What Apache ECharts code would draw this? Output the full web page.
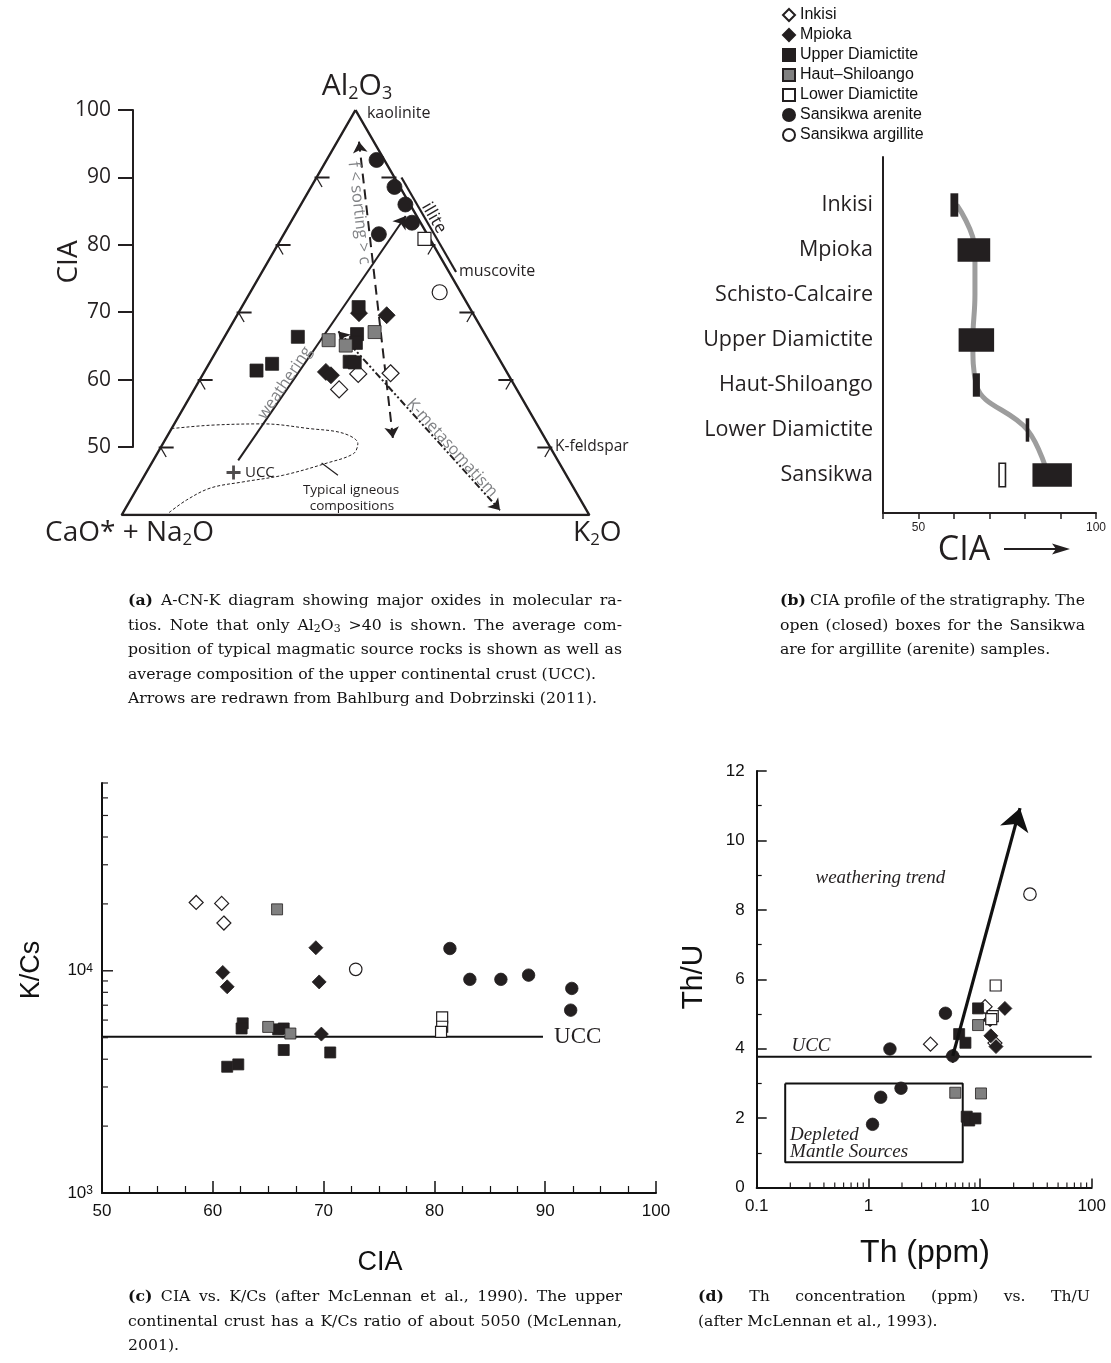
<!DOCTYPE html>
<html>
<head>
<meta charset="utf-8">
<title>Sediment geochemistry panels</title>
<script src="https://cdn.jsdelivr.net/npm/echarts@6/dist/echarts.min.js"></script>
<style>
html, body { margin: 0; padding: 0; background: #fff; }
#chart { width: 1111px; height: 1363px; }
</style>
</head>
<body>
<div id="chart"></div>
<script>
// ---------------- data ----------------
const groupNames = ['Inkisi', 'Mpioka', 'Upper Diamictite', 'Haut–Shiloango', 'Lower Diamictite', 'Sansikwa arenite', 'Sansikwa argillite'];

// (a) A-CN-K molar proportions: [Al2O3 %, K2O %]; CaO*+Na2O is the remainder
const acnkInkisi = [[60.9, 19.9], [61.0, 24.0], [58.6, 18.6]];
const acnkMpioka = [[69.9, 15.5], [69.6, 19.2], [61.2, 15.6], [60.7, 16.5]];
const acnkUpperDiamictite = [[70.8, 15.0], [66.4, 9.4], [66.8, 16.8], [65.5, 17.3], [62.7, 17.9], [62.6, 18.6], [62.4, 8.1], [61.4, 6.6]];
const acnkHautShiloango = [[65.9, 13.6], [65.1, 16.2], [67.1, 18.9]];
const acnkLowerDiamictite = [[80.9, 18.4]];
const acnkSansikwaArenite = [[92.6, 6.4], [88.6, 10.7], [86.0, 13.4], [83.3, 15.6], [81.6, 12.2]];
const acnkSansikwaArgillite = [[73.0, 24.3]];

// (a) reference compositions and trends, [Al2O3 %, K2O %]
const ternaryOutline = [[100, 0], [40, 0], [40, 60], [100, 0]];
const ternaryTickLevels = [50, 60, 70, 80, 90];
const illiteMuscoviteJoin = [[90, 10.9], [76, 24.9]];
const igneousField = [[52.8, 0], [53.3, 4.7], [53.5, 11.4], [52.8, 17.7], [52.1, 22.4], [50.6, 25.0], [49.1, 25.2],
                      [47.7, 22.5], [45.9, 17.8], [44.9, 13.1], [44.0, 9.4], [42.2, 7.2], [40.2, 5.8]];
const igneousLeader = [[47.7, 21.8], [45.9, 24.8]];
const uccACNK = [46.3, 11.2];
const weatheringTrend = [[48.1, 10.9], [84.3, 14.3]];
const sortingTrend = [[95.3, 2.8], [51.4, 29.1]];
const kMetasomatismTrend = [[67.2, 14.2], [40.7, 48.2]];

// (b) CIA ranges per stratigraphic unit
const profileUnits = ['Inkisi', 'Mpioka', 'Schisto-Calcaire', 'Upper Diamictite', 'Haut-Shiloango', 'Lower Diamictite', 'Sansikwa'];
const rangeUnits = ['Inkisi', 'Mpioka', 'Upper Diamictite', 'Haut-Shiloango', 'Lower Diamictite', 'Sansikwa', 'Sansikwa'];
const rangeMin = [59.0, 61.0, 61.3, 65.3, 80.2, 82.1, 72.7];
const rangeMax = [61.2, 70.2, 71.3, 67.3, 81.2, 93.2, 74.5];
const rangeOpen = [false, false, false, false, false, false, true];
const profileTrend = [60.8, 65.9, 65.9, 65.3, 66.3, 80.7, 86.5];

// (c) [CIA, K/Cs]
const kcsInkisi = [[58.5, 20300], [60.8, 20100], [61.0, 16400]];
const kcsMpioka = [[69.3, 12700], [60.9, 9830], [61.3, 8470], [69.6, 8910], [69.8, 5190]];
const kcsUpperDiamictite = [[62.7, 5800], [62.6, 5500], [66.4, 5500], [65.9, 5450], [66.4, 4400], [61.3, 3700], [62.3, 3790], [70.6, 4290]];
const kcsHautShiloango = [[65.8, 18900], [65.0, 5590], [67.0, 5220]];
const kcsLowerDiamictite = [[80.7, 6170], [80.7, 5600], [80.6, 5310]];
const kcsSansikwaArenite = [[81.4, 12600], [83.2, 9150], [86.0, 9150], [88.5, 9560], [92.4, 8330], [92.3, 6650]];
const kcsSansikwaArgillite = [[72.9, 10150]];
const uccKCs = 5050;
const uccKCsSpan = [50, 89.8];
const kcsMajorTicks = [10000];
const kcsMinorTicks = [2000, 3000, 4000, 5000, 6000, 7000, 8000, 9000, 20000, 30000, 40000, 50000, 60000, 70000];

// (d) [Th ppm, Th/U]
const thuInkisi = [[3.6, 4.13], [11.1, 5.21], [13.6, 4.16]];
const thuMpioka = [[16.7, 5.16], [12.5, 4.37], [13.9, 4.06], [12.3, 4.83], [5.7, 3.79]];
const thuUpperDiamictite = [[9.6, 5.16], [6.5, 4.42], [7.4, 4.17], [7.6, 2.04], [8.0, 1.93], [9.1, 1.99]];
const thuHautShiloango = [[9.6, 4.68], [6.0, 2.73], [10.2, 2.71]];
const thuLowerDiamictite = [[13.8, 5.82], [13.0, 4.94], [12.6, 4.85]];
const thuSansikwaArenite = [[4.9, 5.02], [1.56, 3.99], [5.7, 3.79], [1.96, 2.86], [1.29, 2.6], [1.09, 1.82]];
const thuSansikwaArgillite = [[28.0, 8.45]];
const uccThU = 3.77;
const depletedMantleTh = [0.18, 7.0];
const depletedMantleThU = [0.73, 3.0];
const weatheringTrendThU = [[5.7, 3.79], [22.8, 10.93]];
const thMinorTicks = [0.2, 0.3, 0.4, 0.5, 0.6, 0.7, 0.8, 0.9, 2, 3, 4, 5, 6, 7, 8, 9, 20, 30, 40, 50, 60, 70, 80, 90];

// ---------------- styling ----------------
const INK = '#231f20';
const GREY_TEXT = '#808285';
const SANS = '"Open Sans", "Noto Sans", sans-serif';
const HELV = '"Liberation Sans", Arial, sans-serif';
const SERIF = '"Liberation Serif", "Times New Roman", serif';
const CAP_FAMILY = '"DejaVu Serif", serif';
const CAP_SIZE = 15.7;

const markerStyles = {
  'Inkisi': { symbol: 'diamond', fill: '#fff' },
  'Mpioka': { symbol: 'diamond', fill: INK },
  'Upper Diamictite': { symbol: 'rect', fill: INK },
  'Haut–Shiloango': { symbol: 'rect', fill: '#808080' },
  'Lower Diamictite': { symbol: 'rect', fill: '#fff' },
  'Sansikwa arenite': { symbol: 'circle', fill: INK },
  'Sansikwa argillite': { symbol: 'circle', fill: '#fff' }
};

// ternary (Al2O3, K2O) -> cartesian (K2O + Al2O3/2, Al2O3) on an equilateral grid
const ter = ([a, k]) => [k + a / 2, a];

function groupSeries(name, data, xi, yi, sizes) {
  const st = markerStyles[name];
  return {
    name, type: 'scatter', xAxisIndex: xi, yAxisIndex: yi, silent: true, z: 5,
    symbol: st.symbol, symbolSize: sizes[st.symbol],
    itemStyle: { color: st.fill, borderColor: INK, borderWidth: st.fill === '#fff' ? 1.2 : 0.8, opacity: 1 },
    data
  };
}

function noteSeries(xi, yi, notes, toXY) {
  return {
    type: 'custom', xAxisIndex: xi, yAxisIndex: yi, silent: true, z: 6,
    data: notes.map(n => toXY(n.at)),
    renderItem(params, api) {
      const n = notes[params.dataIndex];
      const p = api.coord([api.value(0), api.value(1)]);
      return {
        type: 'text', x: p[0], y: p[1], rotation: (n.rot || 0) * Math.PI / 180,
        style: {
          text: n.text, fill: n.color || INK, fontSize: n.size, fontFamily: n.family || SANS,
          fontStyle: n.italic ? 'italic' : 'normal', align: n.align || 'center', verticalAlign: 'middle'
        }
      };
    }
  };
}

function tickSeries(xi, yi, points, dir, width) {
  return {
    type: 'custom', xAxisIndex: xi, yAxisIndex: yi, silent: true, z: 4,
    data: points,
    renderItem(params, api) {
      const p = api.coord([api.value(0), api.value(1)]);
      const len = api.value(2);
      const q = dir === 'right' ? [p[0] + len, p[1]] : [p[0], p[1] - len];
      return { type: 'line', shape: { x1: p[0], y1: p[1], x2: q[0], y2: q[1] }, style: { stroke: INK, lineWidth: width } };
    }
  };
}

const ternaryNotes = [
  { at: [99.56, 1.69], text: 'kaolinite', size: 16, align: 'left' },
  { at: [76.15, 25.2], text: 'muscovite', size: 16, align: 'left' },
  { at: [50.07, 50.56], text: 'K-feldspar', size: 15.5, align: 'left' },
  { at: [84.0, 18.07], text: 'illite', size: 17, rot: -60 },
  { at: [46.22, 12.71], text: 'UCC', size: 15, align: 'left' },
  { at: [43.7, 27.57], text: 'Typical igneous', size: 13.5 },
  { at: [41.33, 28.88], text: 'compositions', size: 13.5 },
  { at: [59.56, 11.17], text: 'weathering', size: 16, rot: 56, color: GREY_TEXT },
  { at: [84.74, 8.08], text: 'f < sorting > c', size: 16.5, rot: -83.5, color: GREY_TEXT },
  { at: [49.93, 37.42], text: 'K-metasomatism', size: 16, rot: -47.7, color: GREY_TEXT }
];

const thuNotes = [
  { at: [1.28, 8.92], text: 'weathering trend', size: 19, family: SERIF, italic: true },
  { at: [0.306, 4.08], text: 'UCC', size: 19, family: SERIF, italic: true },
  { at: [0.199, 1.5], text: 'Depleted', size: 19, family: SERIF, italic: true, align: 'left' },
  { at: [0.199, 1.02], text: 'Mantle Sources', size: 19, family: SERIF, italic: true, align: 'left' }
];

const kcsNotes = [
  { at: [90.8, 5050], text: 'UCC', size: 23, family: SERIF, align: 'left' }
];

// ---------------- series ----------------
const series = [];
const A = { x: 0, y: 0 }, B = { x: 3, y: 3 }, C = { x: 4, y: 4 }, D = { x: 5, y: 5 };

// (a) ternary frame
series.push({
  type: 'line', xAxisIndex: A.x, yAxisIndex: A.y, silent: true, z: 3, symbol: 'none',
  lineStyle: { color: INK, width: 2.5 }, data: ternaryOutline.map(ter)
});
series.push({
  type: 'custom', xAxisIndex: A.x, yAxisIndex: A.y, silent: true, z: 3,
  data: ternaryTickLevels.flatMap(a => [[...ter([a, 0]), 0], [...ter([a, 100 - a]), 1]]),
  renderItem(params, api) {
    const p = api.coord([api.value(0), api.value(1)]);
    const s = api.value(2) === 0 ? 1 : -1;
    return {
      type: 'group', children: [
        { type: 'line', shape: { x1: p[0] - s * 2, y1: p[1], x2: p[0] + s * 13, y2: p[1] }, style: { stroke: INK, lineWidth: 2 } },
        { type: 'line', shape: { x1: p[0], y1: p[1], x2: p[0] + s * 5.5, y2: p[1] + 9.5 }, style: { stroke: INK, lineWidth: 1.3 } }
      ]
    };
  }
});
series.push({
  type: 'line', xAxisIndex: A.x, yAxisIndex: A.y, silent: true, z: 3, symbol: 'none',
  lineStyle: { color: INK, width: 2.2 }, data: illiteMuscoviteJoin.map(ter)
});
series.push({
  type: 'line', xAxisIndex: A.x, yAxisIndex: A.y, silent: true, z: 2, symbol: 'none', smooth: 0.35,
  lineStyle: { color: INK, width: 1, type: [3, 2] }, data: igneousField.map(ter)
});
series.push({
  type: 'line', xAxisIndex: A.x, yAxisIndex: A.y, silent: true, z: 2, symbol: 'none',
  lineStyle: { color: INK, width: 1.2 }, data: igneousLeader.map(ter)
});
series.push({
  type: 'lines', coordinateSystem: 'cartesian2d', xAxisIndex: A.x, yAxisIndex: A.y, silent: true, z: 4,
  symbol: ['none', 'arrow'], symbolSize: 12,
  lineStyle: { color: INK, width: 2, opacity: 1 }, data: [{ coords: weatheringTrend.map(ter) }]
});
series.push({
  type: 'lines', coordinateSystem: 'cartesian2d', xAxisIndex: A.x, yAxisIndex: A.y, silent: true, z: 4,
  symbol: ['arrow', 'arrow'], symbolSize: 11,
  lineStyle: { color: INK, width: 2, type: [10, 6], opacity: 1 }, data: [{ coords: sortingTrend.map(ter) }]
});
series.push({
  type: 'lines', coordinateSystem: 'cartesian2d', xAxisIndex: A.x, yAxisIndex: A.y, silent: true, z: 4,
  symbol: ['arrow', 'arrow'], symbolSize: 11,
  lineStyle: { color: INK, width: 2, type: [7, 2.5, 2, 2.5, 2, 2.5], opacity: 1 }, data: [{ coords: kMetasomatismTrend.map(ter) }]
});
series.push({
  type: 'scatter', xAxisIndex: A.x, yAxisIndex: A.y, silent: true, z: 5,
  symbol: 'path://M4,0H6V4H10V6H6V10H4V6H0V4H4Z', symbolSize: 14,
  itemStyle: { color: INK }, data: [ter(uccACNK)]
});
const acnkByGroup = [acnkInkisi, acnkMpioka, acnkUpperDiamictite, acnkHautShiloango, acnkLowerDiamictite, acnkSansikwaArenite, acnkSansikwaArgillite];
groupNames.forEach((g, i) => series.push(groupSeries(g, acnkByGroup[i].map(ter), A.x, A.y, { rect: 13, diamond: 17, circle: 15 })));
series.push(noteSeries(A.x, A.y, ternaryNotes, ter));

// (b) CIA profile
series.push({
  type: 'line', xAxisIndex: B.x, yAxisIndex: B.y, silent: true, z: 2, symbol: 'none', smooth: 0.4,
  lineStyle: { color: '#9d9d9d', width: 5 },
  data: profileUnits.map((u, i) => [profileTrend[i], u])
});
series.push({
  type: 'custom', xAxisIndex: B.x, yAxisIndex: B.y, silent: true, z: 3,
  encode: { x: [0, 1], y: 2 },
  data: rangeUnits.map((u, i) => [rangeMin[i], rangeMax[i], profileUnits.indexOf(u)]),
  renderItem(params, api) {
    const p0 = api.coord([api.value(0), api.value(2)]);
    const p1 = api.coord([api.value(1), api.value(2)]);
    const h = api.size([0, 1])[1] * 0.52;
    const open = rangeOpen[params.dataIndex];
    return {
      type: 'rect', shape: { x: p0[0], y: p0[1] - h / 2, width: p1[0] - p0[0], height: h },
      style: open ? { fill: '#fff', stroke: INK, lineWidth: 1.6 } : { fill: INK }
    };
  }
});

// (c) CIA vs K/Cs
series.push({
  type: 'line', xAxisIndex: C.x, yAxisIndex: C.y, silent: true, z: 2, symbol: 'none',
  lineStyle: { color: '#111', width: 2 }, data: uccKCsSpan.map(x => [x, uccKCs])
});
series.push(tickSeries(C.x, C.y, kcsMajorTicks.map(v => [50, v, 11]), 'right', 1.5));
series.push(tickSeries(C.x, C.y, kcsMinorTicks.map(v => [50, v, 6]), 'right', 1.2));
const kcsByGroup = [kcsInkisi, kcsMpioka, kcsUpperDiamictite, kcsHautShiloango, kcsLowerDiamictite, kcsSansikwaArenite, kcsSansikwaArgillite];
groupNames.forEach((g, i) => series.push(groupSeries(g, kcsByGroup[i], C.x, C.y, { rect: 11, diamond: 14, circle: 12.5 })));
series.push(noteSeries(C.x, C.y, kcsNotes, p => p));

// (d) Th vs Th/U
series.push({
  type: 'line', xAxisIndex: D.x, yAxisIndex: D.y, silent: true, z: 2, symbol: 'none',
  lineStyle: { color: '#111', width: 2 }, data: [[0.1, uccThU], [100, uccThU]]
});
series.push({
  type: 'line', xAxisIndex: D.x, yAxisIndex: D.y, silent: true, z: 2, symbol: 'none',
  lineStyle: { color: '#111', width: 2 },
  data: [[depletedMantleTh[0], depletedMantleThU[1]], [depletedMantleTh[1], depletedMantleThU[1]],
         [depletedMantleTh[1], depletedMantleThU[0]], [depletedMantleTh[0], depletedMantleThU[0]],
         [depletedMantleTh[0], depletedMantleThU[1]]]
});
series.push({
  type: 'lines', coordinateSystem: 'cartesian2d', xAxisIndex: D.x, yAxisIndex: D.y, silent: true, z: 6,
  symbol: ['none', 'arrow'], symbolSize: [0, 22],
  lineStyle: { color: '#111', width: 3.2, opacity: 1 }, data: [{ coords: weatheringTrendThU }]
});
series.push(tickSeries(D.x, D.y, thMinorTicks.map(v => [v, 0, 5]), 'up', 1.2));
const thuByGroup = [thuInkisi, thuMpioka, thuUpperDiamictite, thuHautShiloango, thuLowerDiamictite, thuSansikwaArenite, thuSansikwaArgillite];
groupNames.forEach((g, i) => series.push(groupSeries(g, thuByGroup[i], D.x, D.y, { rect: 11, diamond: 14, circle: 12.5 })));
series.push(noteSeries(D.x, D.y, thuNotes, p => p));

// ---------------- axes ----------------
const axisLine = { show: true, onZero: false, lineStyle: { color: '#111', width: 2 } };
const hidden = { show: false };
const gridBase = { containLabel: false, outerBoundsMode: 'none' };

const xAxis = [
  { gridIndex: 0, type: 'value', min: 20, max: 80, ...hidden },
  { gridIndex: 1, type: 'value', min: 0, max: 1, ...hidden },
  {
    gridIndex: 2, type: 'value', min: 40, max: 100, interval: 10,
    axisLine: { show: true, onZero: false, lineStyle: { color: INK, width: 2 } },
    axisTick: { show: true, inside: false, length: 6, lineStyle: { color: INK, width: 1.5 } },
    axisLabel: { fontFamily: HELV, fontSize: 12, color: INK, margin: 9, formatter: v => (v === 50 || v === 100) ? String(v) : '' },
    splitLine: hidden
  },
  { gridIndex: 3, type: 'value', min: 40, max: 100, ...hidden },
  {
    gridIndex: 4, type: 'value', min: 50, max: 100, interval: 10, axisLine,
    axisTick: { show: true, inside: true, length: 12, lineStyle: { color: '#111', width: 1.5 } },
    minorTick: { show: true, splitNumber: 4, length: 7, lineStyle: { color: '#111', width: 1.2 } },
    axisLabel: { fontFamily: HELV, fontSize: 17, color: '#111', margin: 10 },
    splitLine: hidden
  },
  {
    gridIndex: 5, type: 'log', logBase: 10, min: 0.1, max: 100, axisLine,
    axisTick: { show: true, inside: true, length: 9, lineStyle: { color: '#111', width: 1.5 } },
    axisLabel: { fontFamily: HELV, fontSize: 17, color: '#111', margin: 10, formatter: v => String(parseFloat(Number(v).toPrecision(6))) },
    splitLine: hidden
  }
];

const yAxis = [
  { gridIndex: 0, type: 'value', min: 40, max: 100, ...hidden },
  {
    gridIndex: 1, type: 'value', min: 50, max: 100, interval: 10,
    axisLine: { show: true, lineStyle: { color: INK, width: 2 } },
    axisTick: { show: true, inside: false, length: 15, lineStyle: { color: INK, width: 2 } },
    axisLabel: { fontFamily: SANS, fontSize: 21, color: INK, margin: 22 },
    splitLine: hidden
  },
  {
    gridIndex: 2, type: 'value', min: 0, max: 1,
    axisLine: { show: true, lineStyle: { color: INK, width: 2 } },
    axisTick: hidden, axisLabel: hidden, splitLine: hidden
  },
  {
    gridIndex: 3, type: 'category', inverse: true, data: profileUnits,
    axisLine: hidden, axisTick: hidden, splitLine: hidden,
    axisLabel: { fontFamily: SANS, fontSize: 21.5, color: INK, margin: 10, interval: 0 }
  },
  {
    gridIndex: 4, type: 'log', logBase: 10, min: 1000, max: 70000, axisLine,
    axisTick: hidden, splitLine: hidden,
    axisLabel: {
      fontFamily: HELV, fontSize: 17, color: '#111', margin: 9,
      formatter: v => {
        const e = Math.log10(v);
        return Math.abs(e - Math.round(e)) < 1e-6 ? '10{sup|' + Math.round(e) + '}' : '';
      },
      rich: { sup: { fontFamily: HELV, fontSize: 12, verticalAlign: 'top', lineHeight: 9 } }
    }
  },
  {
    gridIndex: 5, type: 'value', min: 0, max: 12, interval: 2, axisLine,
    axisTick: { show: true, inside: true, length: 10, lineStyle: { color: '#111', width: 1.5 } },
    minorTick: { show: true, splitNumber: 2, length: 5, lineStyle: { color: '#111', width: 1.2 } },
    axisLabel: { fontFamily: HELV, fontSize: 17, color: '#111', margin: 12 },
    splitLine: hidden
  }
];

const grid = [
  { left: 121.7, top: 110, width: 467.6, height: 405 },
  { left: 133, top: 110, width: 2, height: 337 },
  { left: 883, top: 157, width: 213, height: 356 },
  { left: 883, top: 182.5, width: 213, height: 315 },
  { left: 102, top: 783, width: 554, height: 410 },
  { left: 756.7, top: 771, width: 335, height: 416.5 }
].map(g => ({ ...gridBase, ...g }));

// ---------------- free text ----------------
const mctx = document.createElement('canvas').getContext('2d');
function segments(word) {
  const out = []; const re = /\{(\w+)\|([^}]*)\}/g; let last = 0, m;
  while ((m = re.exec(word))) {
    if (m.index > last) out.push(['', word.slice(last, m.index)]);
    out.push([m[1], m[2]]); last = re.lastIndex;
  }
  if (last < word.length) out.push(['', word.slice(last)]);
  return out;
}
function wordWidth(word) {
  return segments(word).reduce((s, [k, t]) => {
    const size = k === 'sub' ? CAP_SIZE * 0.7 : CAP_SIZE;
    mctx.font = (k === 'b' ? 'bold ' : '') + size + 'px "DejaVu Serif"';
    return s + mctx.measureText(t).width;
  }, 0);
}
const captionRich = {
  b: { fontFamily: CAP_FAMILY, fontSize: CAP_SIZE, fontWeight: 'bold', fill: '#111' },
  sub: { fontFamily: CAP_FAMILY, fontSize: CAP_SIZE * 0.7, verticalAlign: 'bottom', lineHeight: 8, fill: '#111' }
};
function captionLine(text, x, y, width, justify) {
  const words = text.split(' ');
  const ws = words.map(wordWidth);
  mctx.font = CAP_SIZE + 'px "DejaVu Serif"';
  const space = mctx.measureText(' ').width;
  const total = ws.reduce((a, b) => a + b, 0);
  const gap = justify && words.length > 1 ? (width - total) / (words.length - 1) : space;
  const els = []; let cx = x;
  words.forEach((w, i) => {
    els.push({
      type: 'text', x: cx, y, silent: true,
      style: { text: w, fontFamily: CAP_FAMILY, fontSize: CAP_SIZE, fill: '#111', align: 'left', verticalAlign: 'middle', lineHeight: 18, rich: captionRich }
    });
    cx += ws[i] + gap;
  });
  return els;
}
const captions = [
  { x: 128, w: 494, y0: 601, lines: [
    ['{b|(a)} A-CN-K diagram showing major oxides in molecular ra-', true],
    ['tios. Note that only Al{sub|2}O{sub|3} >40 is shown. The average com-', true],
    ['position of typical magmatic source rocks is shown as well as', true],
    ['average composition of the upper continental crust (UCC).', false],
    ['Arrows are redrawn from Bahlburg and Dobrzinski (2011).', false]] },
  { x: 780, w: 305, y0: 601, lines: [
    ['{b|(b)} CIA profile of the stratigraphy. The', true],
    ['open (closed) boxes for the Sansikwa', true],
    ['are for argillite (arenite) samples.', false]] },
  { x: 128, w: 494, y0: 1297, lines: [
    ['{b|(c)} CIA vs. K/Cs (after McLennan et al., 1990). The upper', true],
    ['continental crust has a K/Cs ratio of about 5050 (McLennan,', true],
    ['2001).', false]] },
  { x: 698, w: 392, y0: 1297, lines: [
    ['{b|(d)} Th concentration (ppm) vs. Th/U', true],
    ['(after McLennan et al., 1993).', false]] }
];
const graphic = [];
captions.forEach(c => c.lines.forEach(([t, j], i) => graphic.push(...captionLine(t, c.x, c.y0 + i * 24.5, c.w, j))));

const chemRich = size => ({
  s: { fontFamily: SANS, fontSize: size * 0.6, verticalAlign: 'bottom', lineHeight: size * 0.3, fill: INK }
});
graphic.push(
  { type: 'text', x: 357, y: 86, silent: true, style: { text: 'Al{s|2}O{s|3}', fontFamily: SANS, fontSize: 30, lineHeight: 34, fill: INK, align: 'center', verticalAlign: 'middle', rich: chemRich(30) } },
  { type: 'text', x: 45, y: 533, silent: true, style: { text: 'CaO* + Na{s|2}O', fontFamily: SANS, fontSize: 28, lineHeight: 32, fill: INK, align: 'left', verticalAlign: 'middle', rich: chemRich(28) } },
  { type: 'text', x: 573, y: 533, silent: true, style: { text: 'K{s|2}O', fontFamily: SANS, fontSize: 28, lineHeight: 32, fill: INK, align: 'left', verticalAlign: 'middle', rich: chemRich(28) } },
  { type: 'text', x: 69, y: 262, rotation: Math.PI / 2, silent: true, style: { text: 'CIA', fontFamily: SANS, fontSize: 28, fill: INK, align: 'center', verticalAlign: 'middle' } },
  { type: 'text', x: 964, y: 550, silent: true, style: { text: 'CIA', fontFamily: SANS, fontSize: 34, fill: INK, align: 'center', verticalAlign: 'middle' } },
  { type: 'line', silent: true, shape: { x1: 1004, y1: 549, x2: 1058, y2: 549 }, style: { stroke: INK, lineWidth: 2 } },
  { type: 'polygon', silent: true, shape: { points: [[1052, 543.5], [1070, 549], [1052, 554.5], [1056, 549]] }, style: { fill: INK } },
  { type: 'text', x: 32, y: 970, rotation: Math.PI / 2, silent: true, style: { text: 'K/Cs', fontFamily: HELV, fontSize: 27, fill: '#111', align: 'center', verticalAlign: 'middle' } },
  { type: 'text', x: 380, y: 1263, silent: true, style: { text: 'CIA', fontFamily: HELV, fontSize: 27, fill: '#111', align: 'center', verticalAlign: 'middle' } },
  { type: 'text', x: 694, y: 977, rotation: Math.PI / 2, silent: true, style: { text: 'Th/U', fontFamily: HELV, fontSize: 30, fill: '#111', align: 'center', verticalAlign: 'middle' } },
  { type: 'text', x: 925, y: 1253, silent: true, style: { text: 'Th (ppm)', fontFamily: HELV, fontSize: 32, fill: '#111', align: 'center', verticalAlign: 'middle' } }
);

// ---------------- chart ----------------
const chart = echarts.init(document.getElementById('chart'), null, { renderer: 'canvas' });
chart.setOption({
  animation: false,
  backgroundColor: '#fff',
  grid, xAxis, yAxis, series, graphic,
  legend: {
    orient: 'vertical', left: 777, top: 2, itemWidth: 12, itemHeight: 12, itemGap: 4,
    selectedMode: false, data: groupNames,
    textStyle: { fontFamily: HELV, fontSize: 16, color: '#111', lineHeight: 14 }
  }
});
</script>
</body>
</html>
